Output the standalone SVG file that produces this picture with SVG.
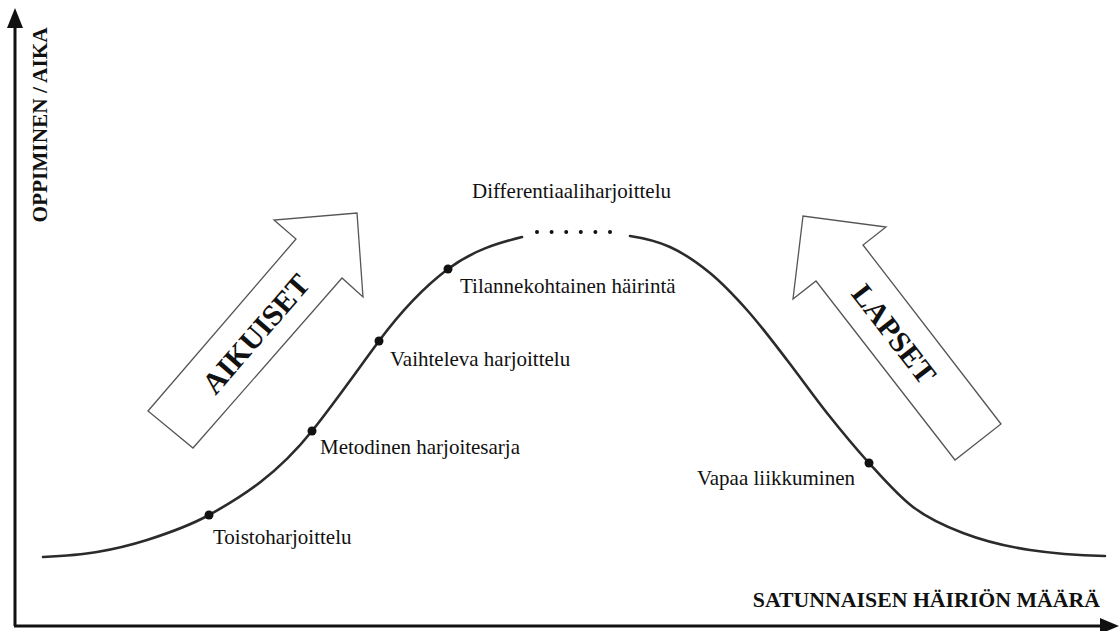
<svg xmlns="http://www.w3.org/2000/svg" width="1119" height="631" viewBox="0 0 1119 631">
  <style>
    .lbl { font-family: "Liberation Serif", "Times New Roman", serif; font-size: 21px; fill: #111; }
    .axl { font-family: "Liberation Serif", "Times New Roman", serif; font-weight: bold; fill: #111; }
    .big { font-family: "Liberation Serif", "Times New Roman", serif; font-size: 30px; font-weight: bold; fill: #111; }
    .curve { fill: none; stroke: #2b2b2b; stroke-width: 2.6; stroke-linecap: round; }
    .axis { stroke: #111; stroke-width: 3; fill: none; }
    .bigarrow { fill: #fff; stroke: #555; stroke-width: 1.3; stroke-linejoin: miter; }
    .dot { fill: #111; }
  </style>
  <rect width="1119" height="631" fill="#fff"/>

  <g id="axes">
    <line class="axis" x1="15" y1="626" x2="15" y2="24"/>
    <polygon points="15,8 7,28 23,28" fill="#111"/>
    <line class="axis" x1="14" y1="626" x2="1102" y2="626"/>
    <polygon points="1119,626 1100,618 1100,634" fill="#111"/>
    <text class="axl" transform="translate(47,125) rotate(-90)" text-anchor="middle" font-size="21.3">OPPIMINEN / AIKA</text>
    <text class="axl" x="1100" y="607" text-anchor="end" font-size="21.8">SATUNNAISEN HÄIRIÖN MÄÄRÄ</text>
  </g>

  <g id="arrow-aikuiset">
    <polygon class="bigarrow" points="148,411 296,239 274,220 357,213 363,297 342,278 193,448"/>
    <text class="big" transform="translate(256,334) rotate(-49)" y="10" text-anchor="middle">AIKUISET</text>
  </g>

  <g id="arrow-lapset">
    <polygon class="bigarrow" points="955,460 816,281 793,299 803,216 886,227 863,245 1001,424"/>
    <text class="big" transform="translate(894,334) rotate(52.2)" y="10" text-anchor="middle" font-size="29">LAPSET</text>
  </g>

  <g id="connectors">
    <path class="curve" d="M43,557 C61,556.1 79,555.1 97,552 C113.7,549.2 130.3,545.3 147,540 C167.7,533.4 188.3,526.4 209,515 C243.3,496.1 277.7,473.9 312,431 C334.3,403.1 356.7,371.1 379,341 C402,310 425,286.3 448,269 C472.7,250.5 497.3,243.2 522,237"/>
    <path class="curve" d="M630,236 C643.3,238 656.7,241 670,247 C683.3,253 696.7,262.1 710,273 C722.3,283.1 734.7,296.2 747,310 C760.3,324.9 773.7,342.8 787,360 C800.3,377.2 813.7,396.2 827,413 C841,430.6 855,447.6 869,463 C883.7,479.1 898.3,495.9 913,507 C929.7,519.7 946.3,526.7 963,533 C985.3,541.5 1007.7,546.7 1030,550 C1055,553.8 1080,555.3 1105,556"/>
  </g>

  <g id="node-differentiaali">
    <circle class="dot" cx="537" cy="232" r="2"/>
    <circle class="dot" cx="551.6" cy="232" r="2"/>
    <circle class="dot" cx="566.2" cy="232" r="2"/>
    <circle class="dot" cx="580.8" cy="232" r="2"/>
    <circle class="dot" cx="595.4" cy="232" r="2"/>
    <circle class="dot" cx="610" cy="232" r="2"/>
    <text class="lbl" x="472" y="198">Differentiaaliharjoittelu</text>
  </g>
  <g id="node-tilanne">
    <circle class="dot" cx="448" cy="269" r="4.5"/>
    <text class="lbl" x="460" y="293">Tilannekohtainen häirintä</text>
  </g>
  <g id="node-vaihteleva">
    <circle class="dot" cx="379" cy="341" r="4.5"/>
    <text class="lbl" x="390" y="366">Vaihteleva harjoittelu</text>
  </g>
  <g id="node-metodinen">
    <circle class="dot" cx="312" cy="431" r="4.5"/>
    <text class="lbl" x="320" y="454">Metodinen harjoitesarja</text>
  </g>
  <g id="node-toisto">
    <circle class="dot" cx="209" cy="515" r="4.5"/>
    <text class="lbl" x="213" y="544">Toistoharjoittelu</text>
  </g>
  <g id="node-vapaa">
    <circle class="dot" cx="869" cy="463" r="4.5"/>
    <text class="lbl" x="855" y="485" text-anchor="end">Vapaa liikkuminen</text>
  </g>
</svg>
